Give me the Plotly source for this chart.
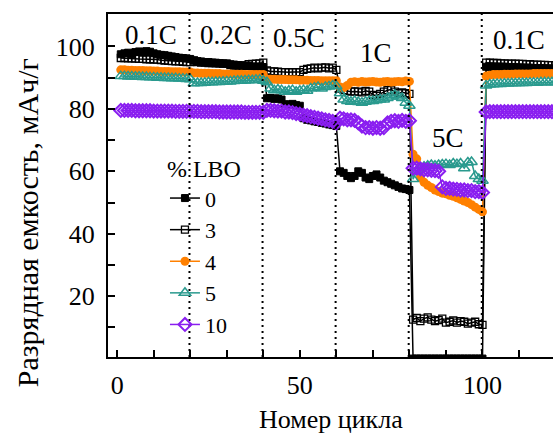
import plotly.graph_objects as go

# Cycle numbers: 20 cycles per C-rate step (0.1C, 0.2C, 0.5C, 1C, 5C, 0.1C)
cycles = list(range(1, 121))

# Discharge capacity, mAh/g, for each LBO content
cap_0 = [
    97.5, 97.8, 98.0, 97.6, 98.2, 98.4, 98.0, 98.5, 98.3, 97.8, 97.5, 97.3, 97.2, 97.0, 96.8, 96.6, 96.4, 96.3, 96.2, 96.0,
    95.5, 95.3, 95.2, 95.0, 95.0, 94.8, 94.8, 94.6, 94.5, 94.5, 94.3, 94.2, 94.0, 94.0, 93.8, 93.8, 93.6, 93.5, 93.5, 93.4,
    83.4, 83.5, 83.2, 83.4, 83.0, 81.5, 81.3, 81.6, 81.2, 81.0, 77.0, 76.5, 76.3, 76.0, 75.8, 75.5, 75.3, 75.0, 74.8, 74.5,
    60.0, 59.5, 58.5, 57.8, 58.5, 60.0, 59.5, 58.0, 57.5, 58.5, 59.0, 58.0, 57.0, 56.5, 56.0, 55.5, 55.0, 54.5, 54.3, 54.0,
    0, 0, 0, 0, 0, 0, 0, 0, 0, 0, 0, 0, 0, 0, 0, 0, 0, 0, 0, 0,
    93.5, 93.5, 93.4, 93.4, 93.3, 93.3, 93.2, 93.2, 93.2, 93.1, 93.1, 93.0, 93.0, 93.0, 92.9, 92.9, 92.8, 92.8, 92.8, 92.7,
]
cap_3 = [
    96.3, 96.3, 96.2, 96.2, 96.1, 96.0, 96.0, 95.9, 95.9, 95.8, 95.8, 95.6, 95.5, 95.4, 95.3, 95.2, 95.2, 95.1, 95.0, 95.0,
    95.5, 95.0, 94.8, 94.8, 94.7, 94.7, 94.6, 94.6, 94.5, 94.5, 94.0, 93.9, 93.9, 93.8, 93.8, 94.3, 94.4, 94.5, 94.6, 94.8,
    92.3, 92.0, 92.0, 91.9, 91.8, 91.8, 91.7, 91.8, 91.7, 91.8, 92.5, 92.8, 93.0, 93.2, 93.0, 93.2, 93.3, 93.0, 93.2, 92.5,
    86.5, 86.0, 85.8, 85.5, 85.6, 85.5, 85.3, 85.8, 85.5, 84.5, 84.2, 84.8, 85.5, 86.0, 86.2, 85.5, 85.0, 85.3, 85.0, 84.8,
    12.5, 13.0, 12.0, 12.8, 13.2, 12.5, 12.0, 12.3, 12.8, 11.5, 11.8, 12.2, 11.5, 12.0, 11.8, 11.2, 11.5, 11.8, 11.0, 10.8,
    94.8, 94.8, 94.7, 94.7, 94.6, 94.6, 94.5, 94.5, 94.5, 94.4, 94.4, 94.3, 94.3, 94.2, 94.2, 94.1, 94.1, 94.0, 94.0, 94.0,
]
cap_4 = [
    92.5, 92.5, 92.4, 92.4, 92.3, 92.3, 92.3, 92.2, 92.2, 92.1, 92.1, 92.0, 92.0, 92.0, 91.9, 91.9, 91.9, 91.8, 91.8, 91.8,
    91.5, 91.5, 91.4, 91.4, 91.4, 91.3, 91.3, 91.3, 91.2, 91.2, 91.2, 91.1, 91.1, 91.1, 91.0, 91.0, 91.0, 91.0, 91.0, 91.0,
    89.5, 89.5, 89.5, 89.4, 89.4, 89.4, 89.3, 89.3, 89.3, 89.2, 89.2, 89.2, 89.1, 89.1, 89.1, 89.0, 89.0, 89.0, 89.0, 89.0,
    87.0, 86.8, 87.5, 88.5, 88.7, 88.5, 88.8, 88.6, 88.7, 88.8, 88.6, 88.5, 88.7, 88.8, 88.6, 88.7, 88.8, 88.7, 88.9, 88.8,
    65.5, 64.0, 58.0, 56.5, 55.5, 54.8, 54.0, 53.5, 53.0, 52.8, 52.3, 52.0, 51.5, 51.0, 50.5, 50.0, 49.3, 48.5, 47.8, 47.0,
    90.5, 90.8, 91.0, 91.0, 91.0, 91.1, 91.1, 91.1, 91.2, 91.2, 91.2, 91.2, 91.2, 91.3, 91.3, 91.3, 91.3, 91.3, 91.3, 91.3,
]
cap_5 = [
    90.5, 90.5, 90.4, 90.4, 90.3, 90.3, 90.2, 90.2, 90.1, 90.1, 90.0, 90.0, 89.9, 89.9, 89.8, 89.8, 89.7, 89.7, 89.6, 89.5,
    88.2, 88.3, 88.3, 88.4, 88.5, 88.5, 88.6, 88.6, 88.7, 88.8, 88.8, 88.9, 89.0, 89.0, 89.1, 89.2, 89.2, 89.3, 89.3, 89.0,
    88.5, 86.5, 86.0, 86.2, 86.0, 85.5, 85.8, 86.0, 85.5, 85.8, 86.0, 85.8, 86.5, 86.8, 87.0, 86.5, 87.0, 87.2, 87.5, 87.3,
    85.0, 83.0, 82.5, 82.3, 82.5, 82.2, 82.0, 82.3, 82.5, 82.5, 82.8, 83.0, 83.0, 83.5, 84.0, 84.5, 84.0, 83.5, 82.0, 81.0,
    57.5, 60.0, 61.0, 61.5, 61.8, 62.0, 61.8, 62.0, 62.2, 62.3, 62.0, 62.5, 62.3, 62.5, 61.0, 62.8, 63.0, 58.5, 57.5, 57.0,
    87.5, 87.8, 87.9, 88.0, 88.0, 88.1, 88.1, 88.2, 88.2, 88.3, 88.3, 88.3, 88.4, 88.4, 88.4, 88.5, 88.5, 88.5, 88.5, 88.5,
]
cap_10 = [
    79.5, 79.5, 79.5, 79.5, 79.4, 79.4, 79.4, 79.4, 79.4, 79.3, 79.3, 79.3, 79.3, 79.3, 79.3, 79.2, 79.2, 79.2, 79.2, 79.2,
    79.2, 79.2, 79.1, 79.1, 79.1, 79.1, 79.1, 79.0, 79.0, 79.0, 79.0, 79.0, 79.0, 79.0, 78.9, 78.9, 78.9, 78.9, 78.9, 78.9,
    79.5, 79.5, 79.4, 79.3, 79.3, 79.0, 79.0, 78.8, 78.5, 78.3, 78.0, 77.8, 77.5, 77.3, 77.0, 76.8, 76.5, 76.3, 76.0, 75.5,
    77.0, 76.8, 76.5, 76.5, 76.3, 75.5, 74.5, 74.0, 74.0, 73.8, 74.0, 73.8, 74.0, 75.5, 76.0, 76.2, 76.0, 76.3, 76.0, 76.2,
    61.0, 61.0, 60.8, 60.5, 60.5, 60.3, 60.2, 60.0, 55.0, 54.5, 54.5, 54.3, 54.2, 54.0, 54.0, 53.8, 53.8, 53.5, 53.5, 53.2,
    79.0, 79.1, 79.1, 79.1, 79.1, 79.1, 79.1, 79.1, 79.1, 79.1, 79.1, 79.1, 79.1, 79.1, 79.1, 79.1, 79.1, 79.1, 79.1, 79.1,
]

series_names = ["0", "3", "4", "5", "10"]
rate_boundaries = [20, 40, 60, 80, 100]
rate_labels = ["0.1C", "0.2C", "0.5C", "1C", "5C", "0.1C"]
rate_label_x = [9.2, 29.7, 49.7, 70.8, 90.5, 110.1]
rate_label_y = [103.8, 103.8, 102.8, 98.0, 70.7, 102.1]

FONT = "Liberation Serif"
BLACK = "#000000"
ORANGE = "#FF8000"
TEAL = "#2A9A8E"
PURPLE = "#8A1EF0"

styles = [
    dict(color=BLACK, symbol="square", size=7, mcolor=BLACK, mline=BLACK, mlw=1),
    dict(color=BLACK, symbol="square-open", size=7, mcolor=BLACK, mline=BLACK, mlw=1.3),
    dict(color=ORANGE, symbol="circle", size=9, mcolor=ORANGE, mline=ORANGE, mlw=0),
    dict(color=TEAL, symbol="triangle-up-open", size=10, mcolor=TEAL, mline=TEAL, mlw=1.5),
    dict(color=PURPLE, symbol="diamond-open", size=10, mcolor=PURPLE, mline=PURPLE, mlw=2),
]

fig = go.Figure()
for name, values, st in zip(series_names, [cap_0, cap_3, cap_4, cap_5, cap_10], styles):
    fig.add_trace(go.Scatter(
        x=cycles, y=values, name=name, mode="lines+markers",
        legendgroup=name,
        line=dict(color=st["color"], width=1.5),
        marker=dict(symbol=st["symbol"], size=st["size"], color=st["mcolor"],
                    line=dict(color=st["mline"], width=st["mlw"])),
    ))

# dotted separators between C-rate steps
for xb in rate_boundaries:
    fig.add_shape(type="line", xref="x", yref="paper", x0=xb - 0.2, x1=xb - 0.2, y0=0, y1=1,
                  line=dict(color=BLACK, width=2, dash="2px,4px"), layer="above")

for txt, xv, yv in zip(rate_labels, rate_label_x, rate_label_y):
    fig.add_annotation(x=xv, y=yv, xref="x", yref="y", text=txt, showarrow=False,
                       font=dict(family=FONT, size=27, color=BLACK))

x_ticks = list(range(0, 121, 10))
y_ticks = list(range(10, 110, 10))

fig.update_layout(
    width=553, height=436,
    margin=dict(l=108, r=0, t=14, b=79),
    paper_bgcolor="white", plot_bgcolor="white",
    showlegend=True,
    legend=dict(
        x=0.128, y=0.615, xanchor="left", yanchor="top",
        bgcolor="rgba(0,0,0,0)", borderwidth=0,
        font=dict(family=FONT, size=22, color=BLACK),
        title=dict(text="% LBO", font=dict(family=FONT, size=24, color=BLACK)),
        tracegroupgap=0,
    ),
    xaxis=dict(
        range=[-2.5, 119.3], showgrid=False, zeroline=False,
        showline=True, linecolor=BLACK, linewidth=2, mirror=True,
        ticks="inside", ticklen=7, tickwidth=1.5, tickcolor=BLACK,
        tickvals=x_ticks, ticktext=[str(v) if v % 50 == 0 else "" for v in x_ticks],
        tickfont=dict(family=FONT, size=26, color=BLACK),
        ticklabelstandoff=4,
    ),
    yaxis=dict(
        range=[0.5, 110.4], showgrid=False, zeroline=False,
        showline=True, linecolor=BLACK, linewidth=2,
        ticks="inside", ticklen=7, tickwidth=1.5, tickcolor=BLACK,
        tickvals=y_ticks, ticktext=[str(v) if v % 20 == 0 else "" for v in y_ticks],
        tickfont=dict(family=FONT, size=26, color=BLACK),
        ticklabelstandoff=6,
    ),
)

fig.add_annotation(xref="paper", yref="paper", x=0.5, y=-0.182, yanchor="middle",
                   text="Номер цикла", showarrow=False,
                   font=dict(family=FONT, size=26, color=BLACK))
fig.add_annotation(xref="paper", yref="paper", x=-0.182, y=0.39, xanchor="center", yanchor="middle",
                   text="Разрядная емкость, мАч/г", textangle=-90, showarrow=False,
                   font=dict(family=FONT, size=30, color=BLACK))

fig.write_html("out.html")
